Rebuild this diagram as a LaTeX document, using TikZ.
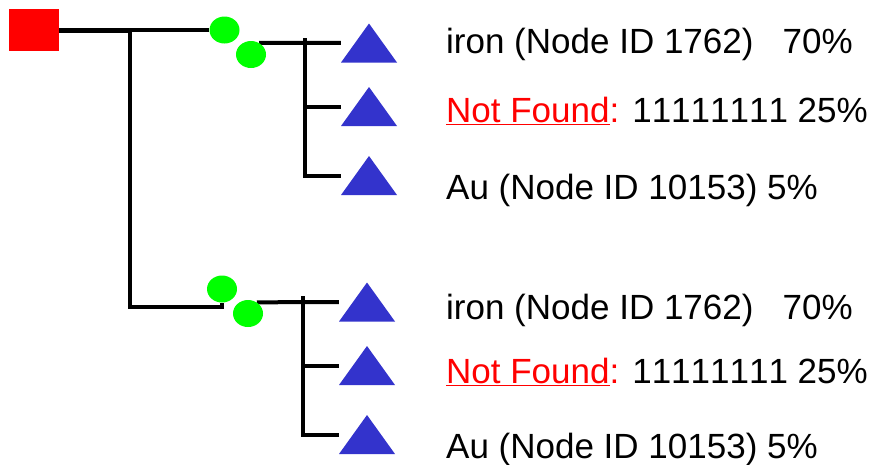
\documentclass[tikz,border=0pt]{standalone}
\usepackage{fontspec}
\setmainfont{Liberation Sans}[Kerning=Off]
\usetikzlibrary{shapes.geometric}
\pgfdeclarelayer{bg}
\pgfsetlayers{bg,main}
\definecolor{triblue}{RGB}{51,51,204}
\begin{document}
\begin{tikzpicture}[x=1pt,y=-1pt,
  wire/.style={line width=4pt, black},
  rootbox/.style={rectangle, fill=red, minimum width=50pt, minimum height=42pt, inner sep=0pt},
  oval/.style={ellipse, fill=green, minimum width=30pt, minimum height=27pt, inner sep=0pt},
  tri/.style={rectangle, minimum width=56pt, minimum height=39pt, inner sep=0pt,
    path picture={\fill[triblue] (path picture bounding box.south west) -- (path picture bounding box.south east) -- (path picture bounding box.north) -- cycle;}},
  lbl/.style={anchor=base west, inner sep=0pt, font=\fontsize{35}{42}\selectfont}]
\useasboundingbox (0,0) rectangle (869,464);
% nodes
\node[rootbox] (root) at (34,30) {};
\node[oval] (a1) at (224.5,30) {};
\node[oval] (a2) at (251,54.5) {};
\node[tri] (t1) at (369,43) {};
\node[tri] (t2) at (369,106.5) {};
\node[tri] (t3) at (369,175.5) {};
\node[oval] (b1) at (222,289) {};
\node[oval] (b2) at (248,313.5) {};
\node[tri] (s1) at (367,302) {};
\node[tri] (s2) at (367,365.5) {};
\node[tri] (s3) at (367,434.5) {};
\coordinate (j) at (130,30);
\coordinate (jb) at (130,307);
\coordinate (k) at (305,38);
\coordinate (m) at (303,296);
% connectors
\begin{pgfonlayer}{bg}
\draw[wire, line width=5pt] (root) -- (j);
\draw[wire] (j) -- (a1);
\draw[wire] (j) -- (jb) -| (b1);
\draw[wire] (a2.55) -- (t1);
\draw[wire] (k) |- (t3);
\draw[wire] (k |- t2) -- (t2);
\draw[wire] (b2.52) -- (s1);
\draw[wire] (m) |- (s3);
\draw[wire] (m |- s2) -- (s2);
\end{pgfonlayer}
% labels
\node[lbl] (l1) at (446,53) {iron (Node ID 1762)\ \ \ 70\%};
\node[lbl] (l2) at (446,122) {\textcolor{red}{\underline{Not Found}:} 11111111 25\%};
\node[lbl] (l3) at (446,199) {Au (Node ID 10153) 5\%};
\node[lbl] (l4) at (446,319) {iron (Node ID 1762)\ \ \ 70\%};
\node[lbl] (l5) at (446,383) {\textcolor{red}{\underline{Not Found}:} 11111111 25\%};
\node[lbl] (l6) at (446,458) {Au (Node ID 10153) 5\%};
\end{tikzpicture}
\end{document}
